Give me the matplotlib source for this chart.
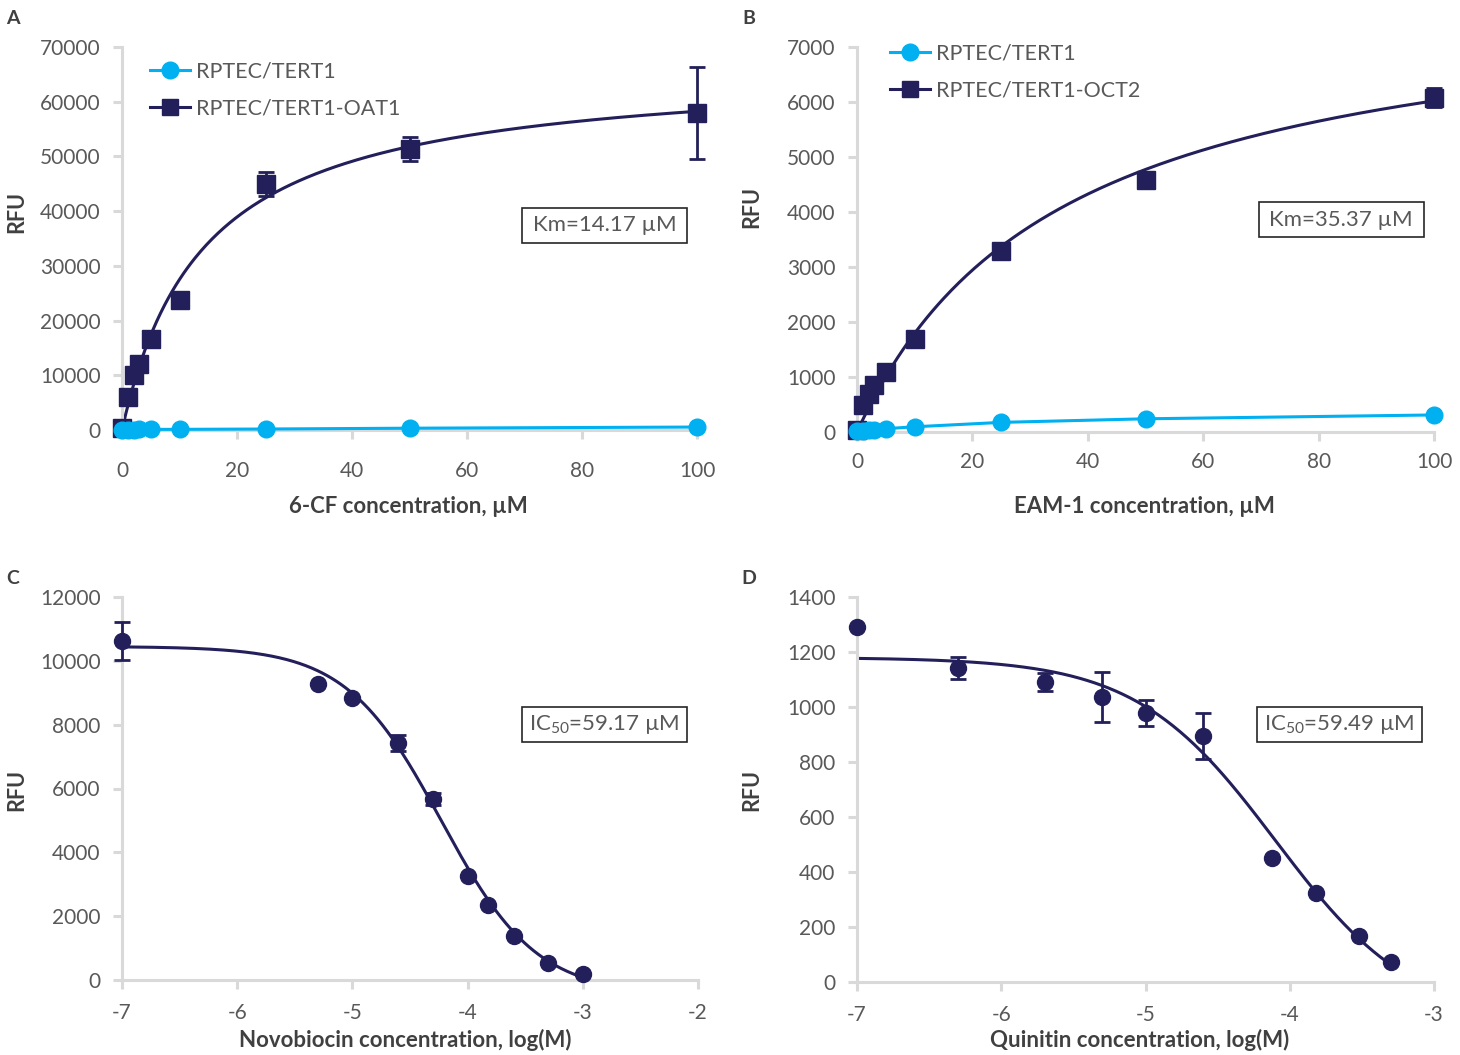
import numpy as np
import matplotlib.pyplot as plt
from matplotlib.lines import Line2D
from matplotlib.patches import Rectangle

plt.rcParams['font.family'] = ['Lato', 'DejaVu Sans']
plt.rcParams['axes.unicode_minus'] = False
plt.rcParams['mathtext.fontset'] = 'custom'
plt.rcParams['mathtext.rm'] = 'Lato'

NAVY = '#231f5a'
CYAN = '#00b0f0'
GREY = '#d9d9d9'
TXT = '#595959'
LAB = '#404040'

# panel A: 6-CF uptake
conc_a = [0, 1, 2, 3, 5, 10, 25, 50, 100]
tert1_a = [50, 80, 90, 100, 110, 120, 180, 330, 540]
oat1_a = [300, 6000, 10000, 12000, 16700, 23800, 45000, 51300, 58000]
oat1_a_err = [200, 300, 400, 400, 500, 1200, 2200, 2200, 8400]
km_a, vmax_a = 14.17, 66500

# panel B: EAM-1 uptake
conc_b = [0, 1, 2, 3, 5, 10, 25, 50, 100]
tert1_b = [10, 20, 30, 40, 60, 95, 175, 240, 310]
oct2_b = [30, 500, 700, 850, 1090, 1700, 3290, 4580, 6080]
oct2_b_err = [20, 30, 30, 30, 40, 50, 60, 150, 170]
km_b, vmax_b = 35.37, 8150

# panel C: novobiocin inhibition
logc_c = [-7, -5.3, -5, -4.6, -4.3, -4, -3.82, -3.6, -3.3, -3]
rfu_c = [10620, 9280, 8840, 7430, 5670, 3260, 2350, 1380, 530, 190]
rfu_c_err = [600, 0, 0, 250, 200, 0, 0, 0, 0, 0]
fit_c = dict(top=10450, bottom=-450, logic=-4.23, hill=1.05)

# panel D: quinitin inhibition
logc_d = [-7, -6.3, -5.7, -5.3, -5, -4.6, -4.125, -3.82, -3.52, -3.3]
rfu_d = [1292, 1141, 1090, 1035, 979, 895, 452, 322, 167, 74]
rfu_d_err = [0, 40, 33, 91, 47, 85, 0, 0, 0, 0]
fit_d = dict(top=1180, bottom=-150, logic=-4.1, hill=0.9)


def mm(x, vmax, km):
    return vmax * x / (km + x)


def logistic(x, top, bottom, logic, hill):
    return bottom + (top - bottom) / (1 + 10 ** ((x - logic) * hill))


fig = plt.figure(figsize=(14.6, 10.55), dpi=100)
W, H = 1460, 1055


def add_ax(x0, x1, y0, y1):
    return fig.add_axes([x0 / W, 1 - y1 / H, (x1 - x0) / W, (y1 - y0) / H])


def style(ax, xpad):
    for s in ['top', 'right']:
        ax.spines[s].set_visible(False)
    for s in ['left', 'bottom']:
        ax.spines[s].set_color(GREY)
        ax.spines[s].set_linewidth(2.2)
    ax.tick_params(color=GREY, width=2.2, length=6.5, labelcolor=TXT, labelsize=15)
    ax.tick_params(axis='y', pad=9)
    ax.tick_params(axis='x', pad=xpad)


def box_text(cx, cy, s, w=165, h=35):
    fig.add_artist(Rectangle(((cx - w / 2) / W, 1 - (cy + h / 2) / H), w / W, h / H,
                             transform=fig.transFigure, fill=False, ec='#262626', lw=1.2))
    fig.text(cx / W, 1 - cy / H, s, ha='center', va='center', fontsize=16, color=TXT)


def legend(ax, x, y, labels, markers):
    handles = [Line2D([], [], color=c, marker=m, ms=ms, lw=2.2) for c, m, ms in markers]
    ax.legend(handles, labels, loc='upper left', bbox_to_anchor=(x / W, 1 - y / H),
              bbox_transform=fig.transFigure, frameon=False, fontsize=15.5,
              handlelength=1.85, handletextpad=0.3, labelspacing=0.75,
              borderpad=0, borderaxespad=0, labelcolor=TXT)


# ---- A
ax = add_ax(122, 697, 47, 430)
style(ax, 16)
xs = np.linspace(0, 100, 300)
ax.plot(xs, mm(xs, vmax_a, km_a), color=NAVY, lw=2.2, zorder=2)
ax.errorbar(conc_a, oat1_a, yerr=oat1_a_err, fmt='s', color=NAVY, ms=13,
            capsize=6, elinewidth=2, capthick=2, zorder=3, clip_on=False)
ax.plot(conc_a, tert1_a, 'o-', color=CYAN, ms=12, lw=2.2, zorder=4, clip_on=False)
ax.set_xlim(0, 100)
ax.set_ylim(0, 70000)
ax.set_xticks(range(0, 101, 20))
ax.set_yticks(range(0, 70001, 10000))
legend(ax, 150, 62, ['RPTEC/TERT1', 'RPTEC/TERT1-OAT1'],
       [(CYAN, 'o', 12), (NAVY, 's', 12)])
box_text(604.5, 225.5, 'Km=14.17 µM')

# ---- B
ax = add_ax(857, 1434, 47, 432)
style(ax, 8)
ax.plot(xs, mm(xs, vmax_b, km_b), color=NAVY, lw=2.2, zorder=2)
ax.errorbar(conc_b, oct2_b, yerr=oct2_b_err, fmt='s', color=NAVY, ms=13,
            capsize=6, elinewidth=2, capthick=2, zorder=3, clip_on=False)
ax.plot(conc_b, tert1_b, 'o-', color=CYAN, ms=12, lw=2.2, zorder=4, clip_on=False)
ax.set_xlim(0, 100)
ax.set_ylim(0, 7000)
ax.set_xticks(range(0, 101, 20))
ax.set_yticks(range(0, 7001, 1000))
legend(ax, 890, 44, ['RPTEC/TERT1', 'RPTEC/TERT1-OCT2'],
       [(CYAN, 'o', 12), (NAVY, 's', 12)])
box_text(1341, 219.5, 'Km=35.37 µM')

# ---- C
ax = add_ax(122, 698, 597, 980)
style(ax, 10)
xc = np.linspace(-7, -3, 300)
ax.plot(xc, logistic(xc, **fit_c), color=NAVY, lw=2.2, zorder=2)
ax.errorbar(logc_c, rfu_c, yerr=rfu_c_err, fmt='o', color=NAVY, ms=11.5,
            capsize=6, elinewidth=2, capthick=2, zorder=3, clip_on=False)
ax.set_xlim(-7, -2)
ax.set_ylim(0, 12000)
ax.set_xticks(range(-7, -1))
ax.set_yticks(range(0, 12001, 2000))
box_text(604.5, 724, r'IC$_{\mathregular{50}}$=59.17 µM')

# ---- D
ax = add_ax(857, 1434, 597, 982)
style(ax, 10)
xd = np.linspace(-7, -3.3, 300)
ax.plot(xd, logistic(xd, **fit_d), color=NAVY, lw=2.2, zorder=2)
ax.errorbar(logc_d, rfu_d, yerr=rfu_d_err, fmt='o', color=NAVY, ms=11.5,
            capsize=6, elinewidth=2, capthick=2, zorder=3, clip_on=False)
ax.set_xlim(-7, -3)
ax.set_ylim(0, 1400)
ax.set_xticks(range(-7, -2))
ax.set_yticks(range(0, 1401, 200))
box_text(1339, 724, r'IC$_{\mathregular{50}}$=59.49 µM')

# labels
for x, y, s in [(13, 18, 'A'), (749, 18, 'B'), (13, 578, 'C'), (749, 578, 'D')]:
    fig.text(x / W, 1 - y / H, s, ha='center', va='center', fontsize=14,
             fontweight='bold', color=LAB)
for x, y in [(17, 212), (752, 207), (17, 790), (752, 790)]:
    fig.text(x / W, 1 - y / H, 'RFU', ha='center', va='center', rotation=90,
             fontsize=15.5, fontweight='bold', color=LAB)
for x, y, s in [(408, 506, '6-CF concentration, µM'),
                (1144, 506, 'EAM-1 concentration, µM'),
                (405, 1040, 'Novobiocin concentration, log(M)'),
                (1140, 1040, 'Quinitin concentration, log(M)')]:
    fig.text(x / W, 1 - y / H, s, ha='center', va='center', fontsize=16,
             fontweight='bold', color=LAB)

fig.savefig('out.png', dpi=100)
